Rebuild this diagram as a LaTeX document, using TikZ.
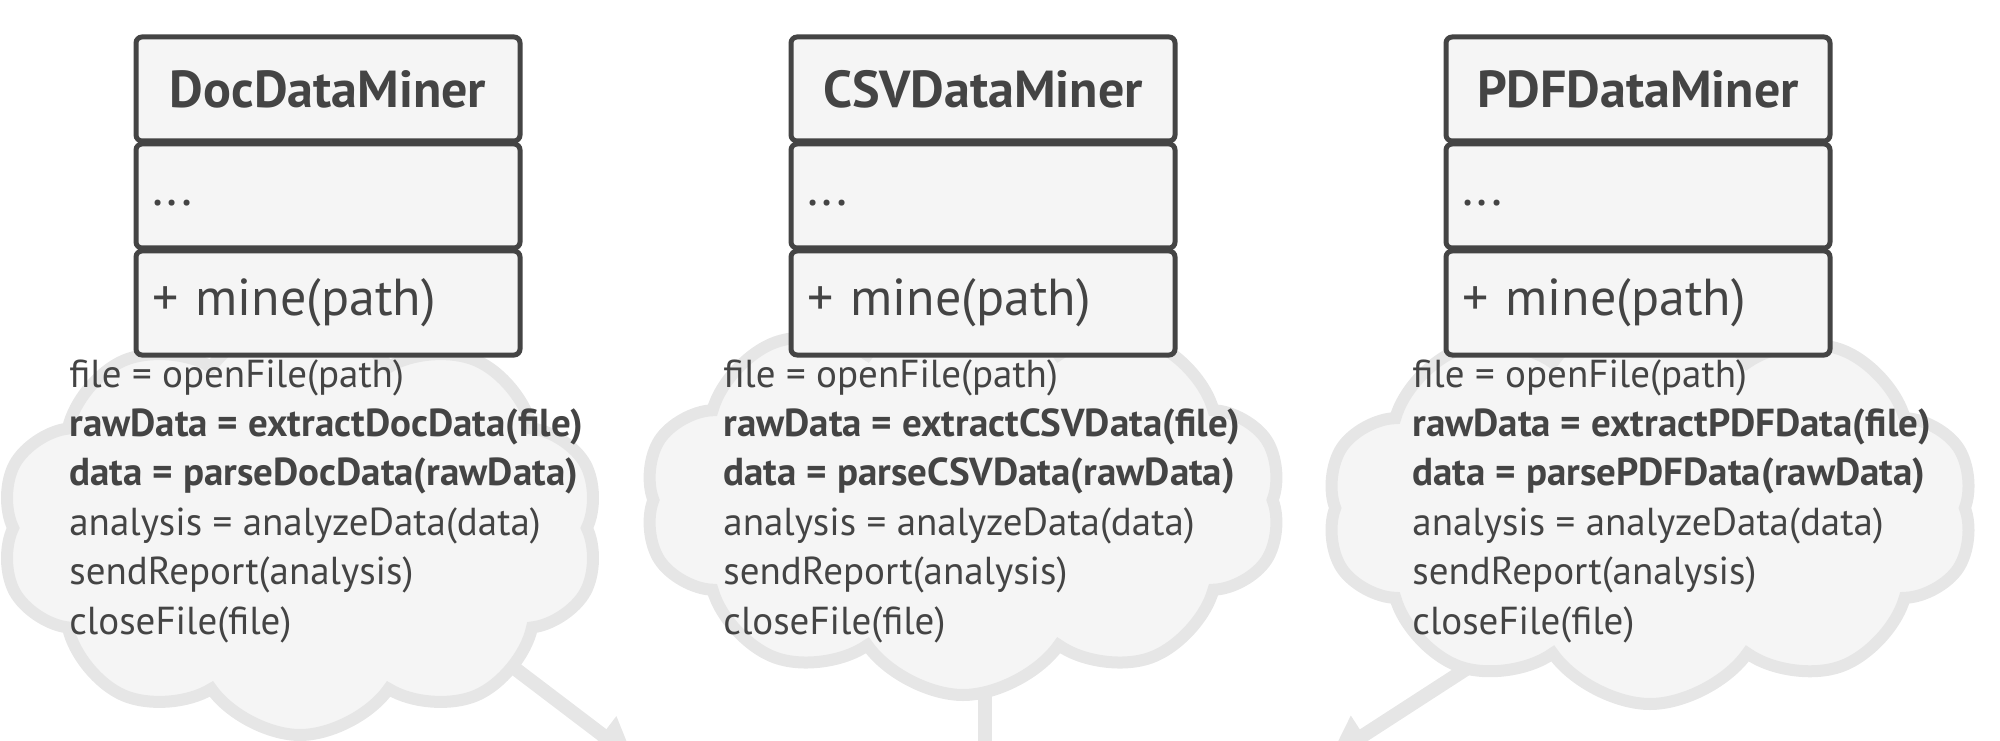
\documentclass[tikz,border=0pt]{standalone}
\usepackage{fontspec}
\setmainfont{PT Sans}
\usetikzlibrary{arrows.meta, positioning, shapes.symbols, backgrounds}
\definecolor{inkcol}{RGB}{68,68,68}
\definecolor{boxfill}{RGB}{245,245,245}
\definecolor{cloudfill}{RGB}{245,245,245}
\definecolor{cloudline}{RGB}{230,230,230}

\begin{document}
\begin{tikzpicture}[x=0.5pt, y=0.5pt,
  >={Triangle[length=20pt, width=22pt]},
  part/.style={draw=inkcol, fill=boxfill, line width=2.5pt, rounded corners=3pt,
               minimum width=192pt, minimum height=52pt, outer sep=0pt,
               inner xsep=8pt, text=inkcol},
  title/.style={part, font=\fontsize{26}{30}\selectfont\bfseries},
  member/.style={part, text width=176pt, align=left,
                 font=\fontsize{26}{30}\selectfont},
  attr/.style={member, text height=10pt, text depth=0pt},
  bubble/.style={cloud, cloud puffs=10, cloud puff arc=110, aspect=1.6,
                 draw=cloudline, fill=cloudfill, line width=6pt},
  code/.style={anchor=north west, align=left, inner sep=0pt, text=inkcol,
               font=\fontsize{19.5}{24.7}\selectfont},
  flow/.style={draw=cloudline, line width=7pt, ->}
]
  \useasboundingbox (0,0) rectangle (2000,740);

  % clouds with the steps of each miner
  \node[bubble, minimum width=300pt, minimum height=207pt] (cloud1) at (300,212) {};
  \node[bubble, minimum width=319pt, minimum height=195pt] (cloud2) at (963,240) {};
  \node[bubble, minimum width=324pt, minimum height=196pt] (cloud3) at (1650,232) {};

  \node[code] (code1) at (69,381) {file = openFile(path)\\
    \textbf{rawData = extractDocData(file)}\\
    \textbf{data = parseDocData(rawData)}\\
    analysis = analyzeData(data)\\
    sendReport(analysis)\\
    closeFile(file)};
  \node[code] (code2) at (723,381) {file = openFile(path)\\
    \textbf{rawData = extractCSVData(file)}\\
    \textbf{data = parseCSVData(rawData)}\\
    analysis = analyzeData(data)\\
    sendReport(analysis)\\
    closeFile(file)};
  \node[code] (code3) at (1412,381) {file = openFile(path)\\
    \textbf{rawData = extractPDFData(file)}\\
    \textbf{data = parsePDFData(rawData)}\\
    analysis = analyzeData(data)\\
    sendReport(analysis)\\
    closeFile(file)};

  % classes
  \node[title, anchor=north] (doc) at (328,703) {DocDataMiner};
  \node[attr, below=1.5pt of doc] (docattr) {...};
  \node[member, below=1.5pt of docattr] (docop) {+ mine(path)};

  \node[title, anchor=north] (csv) at (983,703) {CSVDataMiner};
  \node[attr, below=1.5pt of csv] (csvattr) {...};
  \node[member, below=1.5pt of csvattr] (csvop) {+ mine(path)};

  \node[title, anchor=north] (pdf) at (1638,703) {PDFDataMiner};
  \node[attr, below=1.5pt of pdf] (pdfattr) {...};
  \node[member, below=1.5pt of pdfattr] (pdfop) {+ mine(path)};

  % arrows leaving the picture
  \coordinate (out1) at (634,-19);
  \coordinate (out2) at (985,-80);
  \coordinate (out3) at (1330,-17);
  \begin{scope}[on background layer]
    \draw[flow] ([xshift=15pt]cloud1.center) -- (out1);
    \draw[flow, -] (out2 |- cloud2.center) -- (out2);
    \draw[flow] ([yshift=-21pt]cloud3.center) -- (out3);
  \end{scope}
\end{tikzpicture}
\end{document}
